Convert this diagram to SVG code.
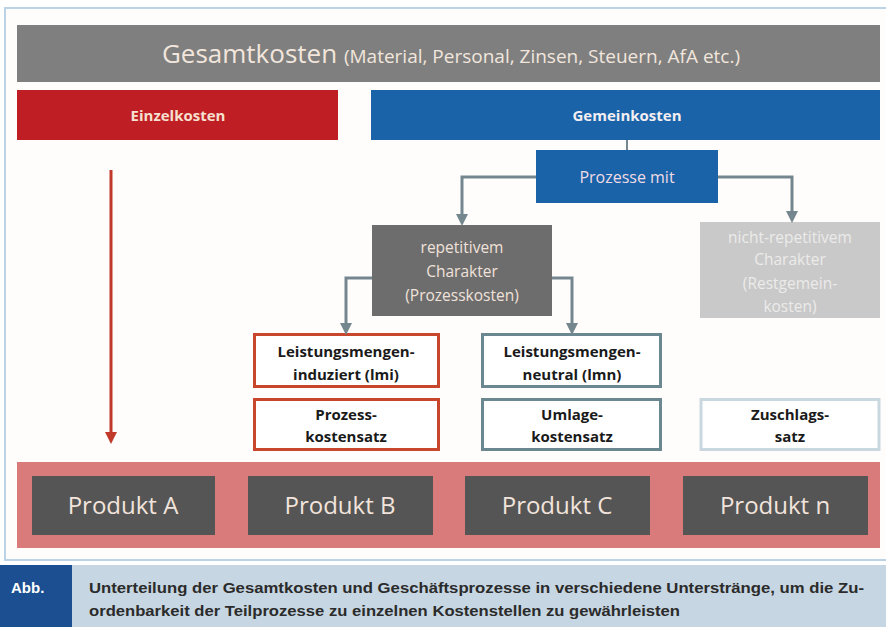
<svg xmlns="http://www.w3.org/2000/svg" width="886" height="627" viewBox="0 0 886 627">
<defs>
<marker id="ah" viewBox="0 0 10 10" refX="5" refY="5" markerWidth="4" markerHeight="4" orient="auto"><path d="M0,0 L10,5 L0,10 z" fill="#74878f"/></marker>
<marker id="ahr" viewBox="0 0 10 10" refX="5" refY="5" markerWidth="4" markerHeight="4" orient="auto"><path d="M0,0 L10,5 L0,10 z" fill="#c0392b"/></marker>
</defs>
<style>
text{font-family:"Open Sans","Liberation Sans",sans-serif;text-anchor:middle}
.conn{fill:none;stroke:#74878f;stroke-width:3;marker-end:url(#ah)}
.lbl{font-size:15px;font-weight:bold;fill:#1a1a1a}
.prod rect{fill:#555555}
.prod text{font-size:24px;fill:#f2e4dc}
.cap{font-family:"Liberation Sans",sans-serif;font-weight:bold;font-size:15px;fill:#2b2b2b;text-anchor:start}
.abb{font-family:"Liberation Sans",sans-serif;font-weight:bold;font-size:15px;fill:#ffffff;text-anchor:start}
</style>
<rect x="0" y="0" width="886" height="627" fill="#ffffff"/>
<rect x="5" y="8" width="885" height="552" fill="#fffdfc" stroke="#bcd3e6" stroke-width="2"/>

<g id="gesamt"><rect x="17" y="25" width="863" height="57" fill="#7f7f7f"/>
<text x="451" y="63" fill="#f2e6dc" font-size="26"><tspan>Gesamtkosten </tspan><tspan font-size="19">(Material, Personal, Zinsen, Steuern, AfA etc.)</tspan></text></g>

<g id="einzel"><rect x="17" y="90" width="321" height="50" fill="#bf1e24"/>
<text x="178" y="121" font-size="15" font-weight="bold" fill="#f6e0d0">Einzelkosten</text></g>

<g id="gemein"><rect x="371" y="90" width="509" height="50" fill="#1a63a8"/>
<text x="627" y="121" font-size="15" font-weight="bold" fill="#f2eef2">Gemeinkosten</text></g>

<g id="prozesse"><rect x="536" y="150" width="182" height="53" fill="#1a63a8"/>
<text x="627" y="183" font-size="16" fill="#f0dce6">Prozesse mit</text></g>

<g id="repetitiv"><rect x="372" y="225" width="180" height="91" fill="#6d6d6d"/>
<text x="462" y="253" font-size="15.5" fill="#f0e2da">repetitivem</text>
<text x="462" y="277" font-size="15.5" fill="#f0e2da">Charakter</text>
<text x="462" y="301" font-size="15.5" fill="#f0e2da">(Prozesskosten)</text></g>

<g id="nichtrep"><rect x="700" y="222" width="180" height="96" fill="#c9c9c9"/>
<text x="790" y="243" font-size="15.5" fill="#ecebea">nicht-repetitivem</text>
<text x="790" y="265" font-size="15.5" fill="#ecebea">Charakter</text>
<text x="790" y="289" font-size="15.5" fill="#ecebea">(Restgemein-</text>
<text x="790" y="312" font-size="15.5" fill="#ecebea">kosten)</text></g>

<g id="lmi"><rect x="254.5" y="334.5" width="184" height="52" fill="#fff" stroke="#c8472c" stroke-width="3"/>
<text class="lbl" x="346" y="357">Leistungsmengen-</text><text class="lbl" x="346" y="380">induziert (lmi)</text></g>
<g id="lmn"><rect x="482.5" y="334.5" width="178" height="52" fill="#fff" stroke="#6b8790" stroke-width="3"/>
<text class="lbl" x="572" y="357">Leistungsmengen-</text><text class="lbl" x="572" y="380">neutral (lmn)</text></g>
<g id="pks"><rect x="254.5" y="399.5" width="184" height="50" fill="#fff" stroke="#c8472c" stroke-width="3"/>
<text class="lbl" x="346" y="420">Prozess-</text><text class="lbl" x="346" y="442">kostensatz</text></g>
<g id="uks"><rect x="482.5" y="399.5" width="178" height="50" fill="#fff" stroke="#6b8790" stroke-width="3"/>
<text class="lbl" x="572" y="420">Umlage-</text><text class="lbl" x="572" y="442">kostensatz</text></g>
<g id="zs"><rect x="701" y="399.5" width="178" height="50" fill="#fff" stroke="#c9d7de" stroke-width="3"/>
<text class="lbl" x="790" y="420">Zuschlags-</text><text class="lbl" x="790" y="442">satz</text></g>

<g id="produkte"><rect x="17" y="462" width="863" height="86" fill="#d97b7b"/></g>
<g id="pa" class="prod"><rect x="32" y="476" width="183" height="59"/><text x="123" y="514">Produkt A</text></g>
<g id="pb" class="prod"><rect x="248" y="476" width="185" height="59"/><text x="340" y="514">Produkt B</text></g>
<g id="pc" class="prod"><rect x="465" y="476" width="185" height="59"/><text x="557" y="514">Produkt C</text></g>
<g id="pn" class="prod"><rect x="683" y="476" width="185" height="59"/><text x="775" y="514">Produkt n</text></g>

<g id="connectors">
<line x1="627" y1="140" x2="627" y2="150" stroke="#74878f" stroke-width="2"/>
<path class="conn" d="M536,177 H462 V220"/>
<path class="conn" d="M718,177 H792 V217"/>
<path class="conn" d="M372,278 H346 V329"/>
<path class="conn" d="M552,278 H572 V329"/>
<path d="M111,170 V438" fill="none" stroke="#c0392b" stroke-width="3" marker-end="url(#ahr)"/>
</g>

<g id="caption">
<rect x="0" y="565" width="886" height="62" fill="#c6d6e2"/>
<rect x="0" y="565" width="72" height="62" fill="#1b4f91"/>
<text class="abb" x="11" y="593">Abb.</text>
<text class="cap" x="89" y="593" textLength="775" lengthAdjust="spacingAndGlyphs">Unterteilung der Gesamtkosten und Geschäftsprozesse in verschiedene Unterstränge, um die Zu-</text>
<text class="cap" x="89" y="616" textLength="591" lengthAdjust="spacingAndGlyphs">ordenbarkeit der Teilprozesse zu einzelnen Kostenstellen zu gewährleisten</text>
</g>
</svg>
